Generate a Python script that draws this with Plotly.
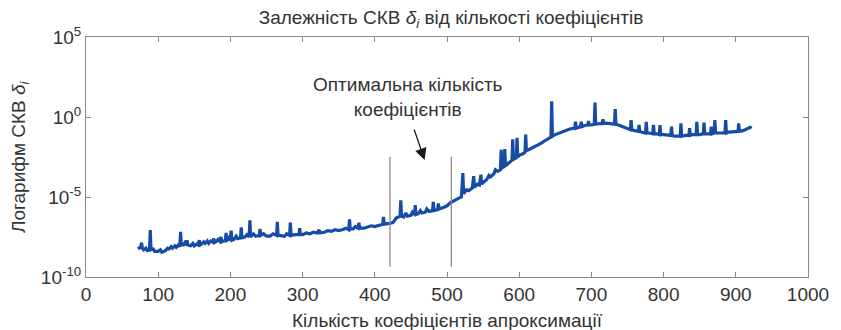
import plotly.graph_objects as go

# Number of approximation coefficients
coef_count = [
    72, 74, 76, 77, 78, 80, 83, 85, 88, 89, 90, 93, 95, 100, 103, 105, 110,
    113, 115, 118, 120, 123, 125, 128, 130, 131, 132, 135, 137, 139, 140, 141,
    145, 148, 150, 153, 155, 157, 158, 160, 163, 165, 168, 170, 173, 175, 177,
    178, 180, 183, 185, 187, 188, 190, 193, 194, 195, 198, 200, 201, 202, 205,
    208, 210, 214, 215, 216, 220, 223, 226, 227, 228, 232, 235, 240, 241, 242,
    246, 250, 255, 259, 264, 265, 266, 270, 275, 278, 282, 283, 284, 290, 295,
    296, 297, 300, 305, 310, 315, 320, 323, 324, 330, 335, 340, 345, 350, 355,
    360, 364, 365, 366, 370, 373, 377, 378, 379, 385, 390, 395, 400, 405, 411,
    412, 413, 420, 425, 430, 435, 436, 437, 440, 443, 445, 450, 452, 455, 456,
    457, 460, 463, 465, 470, 472, 475, 480, 481, 482, 487, 488, 489, 495, 500,
    505, 510, 515, 520, 522, 523, 527, 530, 535, 537, 538, 542, 545, 547, 548,
    550, 555, 558, 560, 565, 567, 570, 574, 575, 576, 579, 580, 581, 585, 590,
    591, 592, 596, 597, 598, 600, 605, 608, 609, 610, 615, 620, 625, 630, 635,
    640, 644, 645, 646, 650, 655, 660, 665, 670, 677, 678, 679, 685, 686, 687,
    690, 695, 696, 697, 700, 704, 705, 706, 710, 715, 716, 717, 720, 725, 732,
    733, 734, 740, 745, 750, 754, 755, 756, 760, 765, 766, 767, 770, 775, 776,
    777, 780, 785, 786, 787, 790, 794, 795, 796, 800, 805, 810, 811, 812, 815,
    823, 824, 825, 830, 835, 836, 837, 840, 845, 846, 847, 850, 855, 856, 857,
    860, 865, 866, 867, 870, 871, 872, 880, 885, 886, 887, 890, 895, 900, 903,
    904, 905, 910, 915, 920, 922,
]

# log10 of the RMSE for each coefficient count
log_rmse = [
    -8.25, -8.15, -8.10, -7.85, -8.20, -8.30, -8.20, -8.35, -8.30, -7.06, -8.30,
    -8.25, -8.40, -8.40, -8.30, -8.45, -8.35, -8.20, -8.25, -8.10, -8.20, -8.05,
    -8.15, -8.00, -8.10, -7.17, -8.00, -8.00, -7.85, -8.00, -7.70, -8.00, -8.05,
    -7.90, -8.05, -7.95, -8.00, -7.70, -8.00, -7.95, -7.80, -7.90, -7.75, -7.90,
    -7.75, -7.80, -7.60, -7.85, -7.80, -7.65, -7.75, -7.50, -7.80, -7.75, -7.75,
    -7.25, -7.75, -7.55, -7.70, -7.10, -7.70, -7.65, -7.45, -7.60, -7.55, -6.90,
    -7.55, -7.50, -7.35, -7.50, -6.45, -7.50, -7.30, -7.45, -7.40, -7.00, -7.40,
    -7.30, -7.45, -7.45, -7.30, -7.40, -6.55, -7.40, -7.40, -7.45, -7.30, -7.40,
    -6.60, -7.40, -7.35, -7.35, -6.95, -7.35, -7.35, -7.25, -7.30, -7.20, -7.25,
    -7.05, -7.25, -7.20, -7.10, -7.15, -7.05, -7.10, -7.05, -6.95, -7.05, -6.40,
    -7.00, -7.00, -6.85, -6.95, -6.60, -6.95, -6.95, -6.90, -6.80, -6.85, -6.80,
    -6.70, -6.25, -6.70, -6.65, -6.60, -6.30, -6.20, -5.20, -6.20, -6.25, -6.00,
    -6.20, -6.15, -5.95, -6.10, -5.50, -6.10, -6.05, -5.85, -6.00, -5.95, -5.75,
    -5.90, -5.85, -5.30, -5.85, -5.80, -5.40, -5.75, -5.65, -5.55, -5.35, -5.20,
    -5.10, -5.00, -3.50, -4.80, -4.55, -4.60, -4.45, -3.70, -4.40, -4.20, -4.25,
    -3.60, -4.20, -4.10, -3.90, -3.65, -3.75, -3.55, -3.30, -3.40, -3.30, -2.05,
    -3.20, -3.10, -2.00, -3.05, -2.90, -2.70, -1.40, -2.65, -2.55, -1.30, -2.50,
    -2.40, -2.30, -2.20, -1.10, -2.10, -2.00, -1.90, -1.75, -1.65, -1.50, -1.35,
    -1.25, 0.98, -1.20, -1.10, -1.00, -0.90, -0.80, -0.75, -0.70, -0.30, -0.70,
    -0.60, -0.30, -0.60, -0.55, -0.50, -0.25, -0.50, -0.50, -0.45, 0.90, -0.45,
    -0.42, -0.40, -0.15, -0.40, -0.38, -0.40, -0.45, 0.50, -0.45, -0.55, -0.65,
    -0.75, -0.80, -0.20, -0.80, -0.85, -0.90, -0.50, -0.90, -0.95, -1.00, -0.30,
    -1.00, -1.00, -1.05, -0.50, -1.05, -1.05, -1.10, -0.50, -1.10, -1.10, -1.15,
    -1.15, -0.60, -1.15, -1.20, -1.20, -0.40, -1.20, -1.15, -1.15, -0.70, -1.15,
    -1.10, -1.10, -0.30, -1.10, -1.10, -1.05, -0.35, -1.05, -1.05, -1.05, -0.60,
    -1.05, -1.00, -0.20, -1.00, -1.00, -1.00, -0.20, -1.00, -0.95, -0.95, -0.90,
    -0.90, -0.40, -0.90, -0.85, -0.75, -0.65, -0.70,
]

# Bounds of the optimal coefficient range and the vertical extent of the markers
optimal_bounds = [421, 506]
marker_log_span = [-9.36, -2.48]

y_tick_exp = [-10, -5, 0, 5]
x_ticks = list(range(0, 1001, 100))

FONT = "Liberation Sans, Arial, sans-serif"
TEXT = "#333333"
FRAME = "#8a8a8a"

fig = go.Figure()

fig.add_trace(go.Scatter(
    x=coef_count,
    y=[10 ** v for v in log_rmse],
    mode="lines",
    line=dict(color="#174ca6", width=3.2),
    showlegend=False,
    hoverinfo="skip",
))

for xb in optimal_bounds:
    fig.add_trace(go.Scatter(
        x=[xb, xb],
        y=[10 ** marker_log_span[0], 10 ** marker_log_span[1]],
        mode="lines",
        line=dict(color="#8c8c8c", width=1.3),
        showlegend=False,
        hoverinfo="skip",
    ))

# Axis titles placed as free annotations
fig.add_annotation(
    x=0.5, xref="paper", y=0, yref="paper",
    yshift=-43, yanchor="middle",
    text="Кількість коефіцієнтів апроксимації",
    showarrow=False, font=dict(family=FONT, size=19, color=TEXT),
)
fig.add_annotation(
    x=0, xref="paper", y=0.5, yref="paper",
    xshift=-66, xanchor="center", yanchor="middle", textangle=-90,
    text="Логарифм СКВ <i>δ<sub>i</sub></i>",
    showarrow=False, font=dict(family=FONT, size=19, color=TEXT),
)

fig.add_annotation(
    x=446, y=1.25, xref="x", yref="y",
    text="Оптимальна кількість<br>коефіцієнтів",
    showarrow=False, align="center",
    font=dict(family=FONT, size=19, color=TEXT),
)

fig.add_annotation(
    x=469, y=-2.69, xref="x", yref="y",
    ax=-11, ay=-32, axref="pixel", ayref="pixel",
    text="", showarrow=True, arrowhead=2, arrowsize=1.8,
    arrowwidth=1.3, arrowcolor="#1a1a1a",
)

fig.update_layout(
    width=841, height=330,
    margin=dict(l=86, r=24, t=37, b=53),
    paper_bgcolor="white", plot_bgcolor="white",
    font=dict(family=FONT, size=19, color=TEXT),
    title=dict(
        text="Залежність СКВ <i>δ<sub>i</sub></i> від кількості коефіцієнтів",
        x=451 / 841, xref="container", xanchor="center",
        y=1 - 17 / 330, yref="container", yanchor="middle",
        font=dict(family=FONT, size=19, color=TEXT),
    ),
    xaxis=dict(
        range=[0, 1000], tickvals=x_ticks,
        ticks="inside", ticklen=5, tickcolor=FRAME,
        showline=True, linecolor=FRAME, linewidth=1, mirror="ticks",
        showgrid=False, zeroline=False,
        tickfont=dict(family=FONT, size=19, color=TEXT),
    ),
    yaxis=dict(
        type="log", range=[-10, 5],
        tickvals=[10 ** e for e in y_tick_exp],
        ticktext=[f"10<sup>{e}</sup>" for e in y_tick_exp],
        ticks="inside", ticklen=5, tickcolor=FRAME,
        showline=True, linecolor=FRAME, linewidth=1, mirror="ticks",
        showgrid=False, zeroline=False,
        tickfont=dict(family=FONT, size=19, color=TEXT),
    ),
)

fig.write_html("out.html")
